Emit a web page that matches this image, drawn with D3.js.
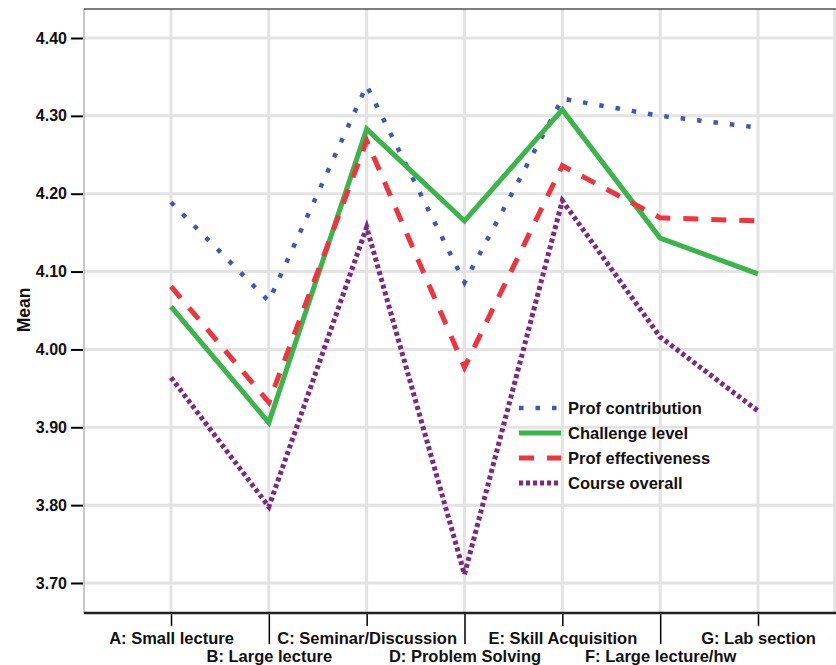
<!DOCTYPE html>
<html><head><meta charset="utf-8">
<script src="https://cdn.jsdelivr.net/npm/d3@7"></script>
<style>body{margin:0;background:#fff;}svg{display:block;font-family:"Liberation Sans",Arial,sans-serif;}</style>
</head><body><svg id="c" width="836" height="665"></svg>
<script>
const categories = ["A: Small lecture","B: Large lecture","C: Seminar/Discussion","D: Problem Solving","E: Skill Acquisition","F: Large lecture/hw","G: Lab section"];
const profContribution = [4.189, 4.062, 4.339, 4.086, 4.322, 4.300, 4.285];
const challengeLevel = [4.055, 3.906, 4.283, 4.165, 4.308, 4.143, 4.097];
const profEffectiveness = [4.081, 3.932, 4.268, 3.977, 4.236, 4.169, 4.165];
const courseOverall = [3.964, 3.798, 4.157, 3.711, 4.191, 4.016, 3.921];
const seriesNames = ["Prof contribution","Challenge level","Prof effectiveness","Course overall"];
const yTicks = [3.70, 3.80, 3.90, 4.00, 4.10, 4.20, 4.30, 4.40];

const series = [
  {name: seriesNames[0], values: profContribution, color: "#3f58b3", dash: "4.5,12", w: 4.5},
  {name: seriesNames[1], values: challengeLevel, color: "#3ab54a", dash: null, w: 5},
  {name: seriesNames[2], values: profEffectiveness, color: "#ee343f", dash: "15,13", w: 5},
  {name: seriesNames[3], values: courseOverall, color: "#7a2a80", dash: "4,3", w: 5}
];

const svg = d3.select("#c");
const pLeft = 84, pRight = 836, pTop = 9, pBottom = 613;
const x = d3.scalePoint().domain(categories).range([171, 758]);
const y = d3.scaleLinear().domain([3.70, 4.40]).range([583, 38]);
const FONT = "Liberation Sans, Arial, sans-serif";

// gridlines
const g = svg.append("g");
g.selectAll(".hg").data(yTicks).enter().append("line")
  .attr("x1", pLeft).attr("x2", pRight).attr("y1", d => y(d)).attr("y2", d => y(d))
  .attr("stroke", "#e3e3e3").attr("stroke-width", 3);
g.selectAll(".vg").data(categories).enter().append("line")
  .attr("x1", d => x(d)).attr("x2", d => x(d)).attr("y1", pTop).attr("y2", pBottom)
  .attr("stroke", "#e3e3e3").attr("stroke-width", 3);
g.append("line").attr("x1", 834.5).attr("x2", 834.5).attr("y1", pTop).attr("y2", pBottom)
  .attr("stroke", "#e3e3e3").attr("stroke-width", 3);
g.append("line").attr("x1", pLeft).attr("x2", pLeft).attr("y1", pTop).attr("y2", pBottom)
  .attr("stroke", "#b5b5b5").attr("stroke-width", 1.5);
g.append("line").attr("x1", pLeft).attr("x2", pRight).attr("y1", pTop).attr("y2", pTop)
  .attr("stroke", "#000").attr("stroke-width", 1.2);

// lines
const line = d3.line().x((d, i) => x(categories[i])).y(d => y(d));
series.forEach(s => {
  svg.append("path").datum(s.values).attr("d", line)
    .attr("fill", "none").attr("stroke", s.color).attr("stroke-width", s.w)
    .attr("stroke-dasharray", s.dash).attr("stroke-linejoin", "miter");
});

// y axis
const yAxis = d3.axisLeft(y).tickValues(yTicks).tickFormat(d3.format(".2f")).tickSize(12).tickPadding(4);
const ya = svg.append("g").attr("transform", `translate(${pLeft - 1},0)`).call(yAxis);
ya.select(".domain").remove();
ya.selectAll(".tick line").attr("stroke", "#000").attr("stroke-width", 2);
ya.selectAll(".tick text").attr("font-size", 16).attr("font-weight", "bold").attr("fill", "#111")
  .attr("font-family", FONT);

// x axis
const xAxis = d3.axisBottom(x).tickSize(13).tickPadding(6);
const xa = svg.append("g").attr("transform", `translate(0,${pBottom})`).call(xAxis);
xa.select(".domain").remove();
xa.selectAll(".tick line").attr("stroke", "#000").attr("stroke-width", 1.5)
  .attr("y2", (d, i) => i % 2 === 1 ? 31 : 13);
xa.selectAll(".tick text").attr("font-size", 16.5).attr("font-weight", "bold").attr("fill", "#111")
  .attr("font-family", FONT)
  .attr("y", (d, i) => i % 2 === 1 ? 37.5 : 19.5);
svg.append("line").attr("x1", pLeft).attr("x2", pRight).attr("y1", pBottom).attr("y2", pBottom)
  .attr("stroke", "#222").attr("stroke-width", 2.5);

// y title
svg.append("text").attr("transform", "translate(24,310) rotate(-90)")
  .attr("text-anchor", "middle").attr("dy", "0.35em").attr("font-size", 17.5).attr("font-weight", "bold").attr("fill", "#111")
  .text("Mean");

// legend
const lg = svg.append("g").attr("transform", "translate(519,408)");
series.forEach((s, i) => {
  const row = lg.append("g").attr("transform", `translate(0,${i * 25})`);
  row.append("line").attr("x1", 0).attr("x2", 42).attr("y1", 0).attr("y2", 0)
    .attr("stroke", s.color).attr("stroke-width", s.w).attr("stroke-dasharray", s.dash);
  row.append("text").attr("x", 49).attr("y", 0).attr("dy", "0.35em")
    .attr("font-size", 16.5).attr("font-weight", "bold").attr("fill", "#111").text(s.name);
});
</script></body></html>
